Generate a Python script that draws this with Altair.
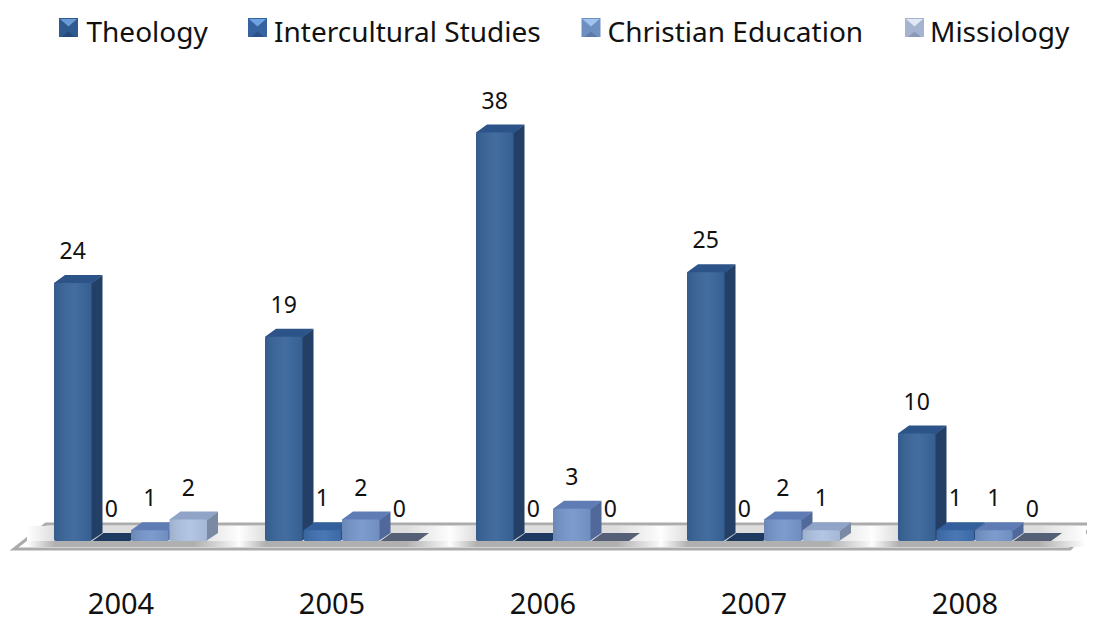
import altair as alt
import pandas as pd

years = [2004, 2005, 2006, 2007, 2008]
series = ["Theology", "Intercultural Studies", "Christian Education", "Missiology"]
theology = [24, 19, 38, 25, 10]
intercultural = [0, 1, 0, 0, 1]
christian = [1, 2, 3, 2, 1]
missiology = [2, 0, 0, 1, 0]
values = [theology, intercultural, christian, missiology]

front_colors = ["#39659A", "#3F70B0", "#7696CB", "#AEC3E2"]
side_colors = ["#233F66", "#2A4C7C", "#50699A", "#7A8AA4"]
top_colors = ["#2C5488", "#33609C", "#5F7DB4", "#8FA4C6"]
zero_colors = ["#1F3A60", "#1F3A60", "#55607A", "#555F75"]
key_base = ["#2F5A90", "#34639F", "#6E8FC2", "#A4B3CE"]
key_light = ["#6A9AD6", "#6FA2E0", "#A3C3EF", "#E0E8F6"]
key_dark = ["#264A78", "#2B5288", "#5C79A8", "#8A99B6"]
key_left = [59, 248, 581.5, 905]

W, H = 1079, 614
PX_YEAR = 211.0
PX_VAL = 10.75
X0_PX, Y0_PX = 46.0, 533.0
xdom = [2004 - X0_PX / PX_YEAR, 2004 + (W - X0_PX) / PX_YEAR]
ydom = [-(H - Y0_PX) / PX_VAL, Y0_PX / PX_VAL]
xs = alt.Scale(domain=xdom, nice=False, zero=False)
ys = alt.Scale(domain=ydom, nice=False, zero=False)
BW = 38.5 / PX_YEAR
FW = 37.5 / PX_YEAR
DX = 11 / PX_YEAR
DY = 8 / PX_VAL
EPS = 1 / PX_YEAR


def X(field="x"):
    return alt.X(f"{field}:Q", scale=xs, axis=None)


def Y(field="y"):
    return alt.Y(f"{field}:Q", scale=ys, axis=None)


def poly(rows, fill):
    return (
        alt.Chart(pd.DataFrame(rows))
        .mark_area(color=fill, interpolate="linear")
        .encode(x=X(), y=Y(), y2="y2:Q")
    )


def px_x(p):
    return xdom[0] + (p - 8) / PX_YEAR


def px_y(p):
    return (Y0_PX - (p - 8)) / PX_VAL


floor = pd.DataFrame(
    [
        {"x": px_x(14), "y": px_y(549), "y2": px_y(549)},
        {"x": px_x(46), "y": px_y(524), "y2": px_y(549)},
        {"x": px_x(1070), "y": px_y(524), "y2": px_y(549)},
        {"x": px_x(1094), "y": px_y(524), "y2": px_y(524)},
    ]
)
floor_chart = (
    alt.Chart(floor)
    .mark_area(fill="white", stroke="#ABABAB", strokeWidth=3, strokeJoin="miter", interpolate="linear")
    .encode(x=X(), y=Y(), y2="y2:Q")
)


def hgrad(c):
    return alt.Gradient(
        gradient="linear", x1=0, x2=1, y1=0, y2=0,
        stops=[
            alt.GradientStop(color="#FFFFFF", offset=0),
            alt.GradientStop(color=c, offset=0.13),
            alt.GradientStop(color=c, offset=0.78),
            alt.GradientStop(color="#FFFFFF", offset=1),
        ],
    )


shadow1 = (
    alt.Chart(pd.DataFrame([
        {"x": yr - 27 / PX_YEAR, "x2": yr + 188 / PX_YEAR, "y": px_y(526), "y2": px_y(547)}
        for yr in years
    ]))
    .mark_rect(color=hgrad("#DDDDDD"))
    .encode(x=X(), x2="x2:Q", y=Y(), y2="y2:Q")
)
shadow2 = (
    alt.Chart(pd.DataFrame([
        {"x": yr - 27 / PX_YEAR, "x2": yr + 188 / PX_YEAR, "y": px_y(541), "y2": px_y(547)}
        for yr in years
    ]))
    .mark_rect(color=hgrad("#B0B0B0"))
    .encode(x=X(), x2="x2:Q", y=Y(), y2="y2:Q")
)

gloss = alt.Gradient(
    gradient="linear", x1=0, x2=1, y1=0, y2=0,
    stops=[
        alt.GradientStop(color="rgba(0,0,0,0.10)", offset=0),
        alt.GradientStop(color="rgba(255,255,255,0.05)", offset=0.55),
        alt.GradientStop(color="rgba(0,0,0,0.06)", offset=1),
    ],
)

color = alt.Color(
    "series:N",
    scale=alt.Scale(domain=series, range=front_colors),
    legend=alt.Legend(
        orient="none", legendX=47, legendY=12, direction="horizontal", title=None,
        symbolType="square", symbolSize=324, symbolStrokeWidth=0, labelFont="Noto Sans",
        labelFontSize=28, labelColor="#111111", columnPadding=34.5, labelOffset=3.5,
        symbolOpacity=0, labelLimit=500, rowPadding=0,
    ),
)

layers = [floor_chart, shadow1, shadow2]

# bevelled legend keys
KS, KT = 19, 18
for si in range(len(series)):
    a = key_left[si]
    layers.append(poly([
        {"x": px_x(a), "y": px_y(KT), "y2": px_y(KT + KS)},
        {"x": px_x(a + KS), "y": px_y(KT), "y2": px_y(KT + KS)},
    ], key_base[si]))
    layers.append(poly([
        {"x": px_x(a + 3), "y": px_y(KT + KS), "y2": px_y(KT + KS)},
        {"x": px_x(a + KS / 2), "y": px_y(KT + KS / 2 + 4), "y2": px_y(KT + KS)},
        {"x": px_x(a + KS - 3), "y": px_y(KT + KS), "y2": px_y(KT + KS)},
    ], key_dark[si]))
    layers.append(poly([
        {"x": px_x(a + 1), "y": px_y(KT + 1), "y2": px_y(KT + 1)},
        {"x": px_x(a + KS / 2), "y": px_y(KT + 1), "y2": px_y(KT + KS / 2 - 1)},
        {"x": px_x(a + KS - 1), "y": px_y(KT + 1), "y2": px_y(KT + 1)},
    ], key_light[si]))

text = []
for si, s in enumerate(series):
    rects = []
    for yr, v in zip(years, values[si]):
        L = yr + si * BW
        R = L + FW
        rects.append({"x": L, "x2": R, "y": v, "y2": 0, "series": s})
        text.append({"x": (L + R) / 2, "y": v, "t": str(v)})
        if v == 0:
            layers.append(poly([
                {"x": L, "y": 0, "y2": 0},
                {"x": L + DX, "y": DY, "y2": 0},
                {"x": R, "y": DY, "y2": 0},
                {"x": R + DX, "y": DY, "y2": DY},
            ], zero_colors[si]))
        else:
            layers.append(poly([
                {"x": R - EPS, "y": v - 0.1, "y2": 0},
                {"x": R + DX, "y": v + DY, "y2": DY},
            ], side_colors[si]))
            layers.append(poly([
                {"x": L, "y": v, "y2": v - 0.1},
                {"x": L + DX, "y": v + DY, "y2": v - 0.1},
                {"x": R, "y": v + DY, "y2": v - 0.1},
                {"x": R + DX, "y": v + DY, "y2": v + DY},
            ], top_colors[si]))
    df = pd.DataFrame(rects)
    layers.append(
        alt.Chart(df).mark_rect(cornerRadius=2).encode(
            x=X(), x2="x2:Q", y=Y(), y2="y2:Q", color=color
        )
    )
    layers.append(
        alt.Chart(df).mark_rect(color=gloss, cornerRadius=2).encode(
            x=X(), x2="x2:Q", y=Y(), y2="y2:Q"
        )
    )

labels = (
    alt.Chart(pd.DataFrame(text))
    .mark_text(font="Noto Sans", fontSize=23, color="#111111", baseline="middle", dy=-31)
    .encode(x=X(), y=Y(), text="t:N")
)
layers.append(labels)

year_labels = (
    alt.Chart(pd.DataFrame({"x": years, "y": [px_y(605)] * 5, "t": [str(y) for y in years]}))
    .mark_text(font="Noto Sans", fontSize=29, color="#111111", baseline="middle", dx=67)
    .encode(x=X(), y=Y(), text="t:N")
)
layers.append(year_labels)

chart = (
    alt.layer(*layers)
    .properties(
        width=W, height=H, padding=0, background="white",
        autosize=alt.AutoSizeParams(type="none"),
    )
    .configure_view(strokeWidth=0)
)
chart.save("out.html", embed_options={"renderer": "svg", "actions": False})
